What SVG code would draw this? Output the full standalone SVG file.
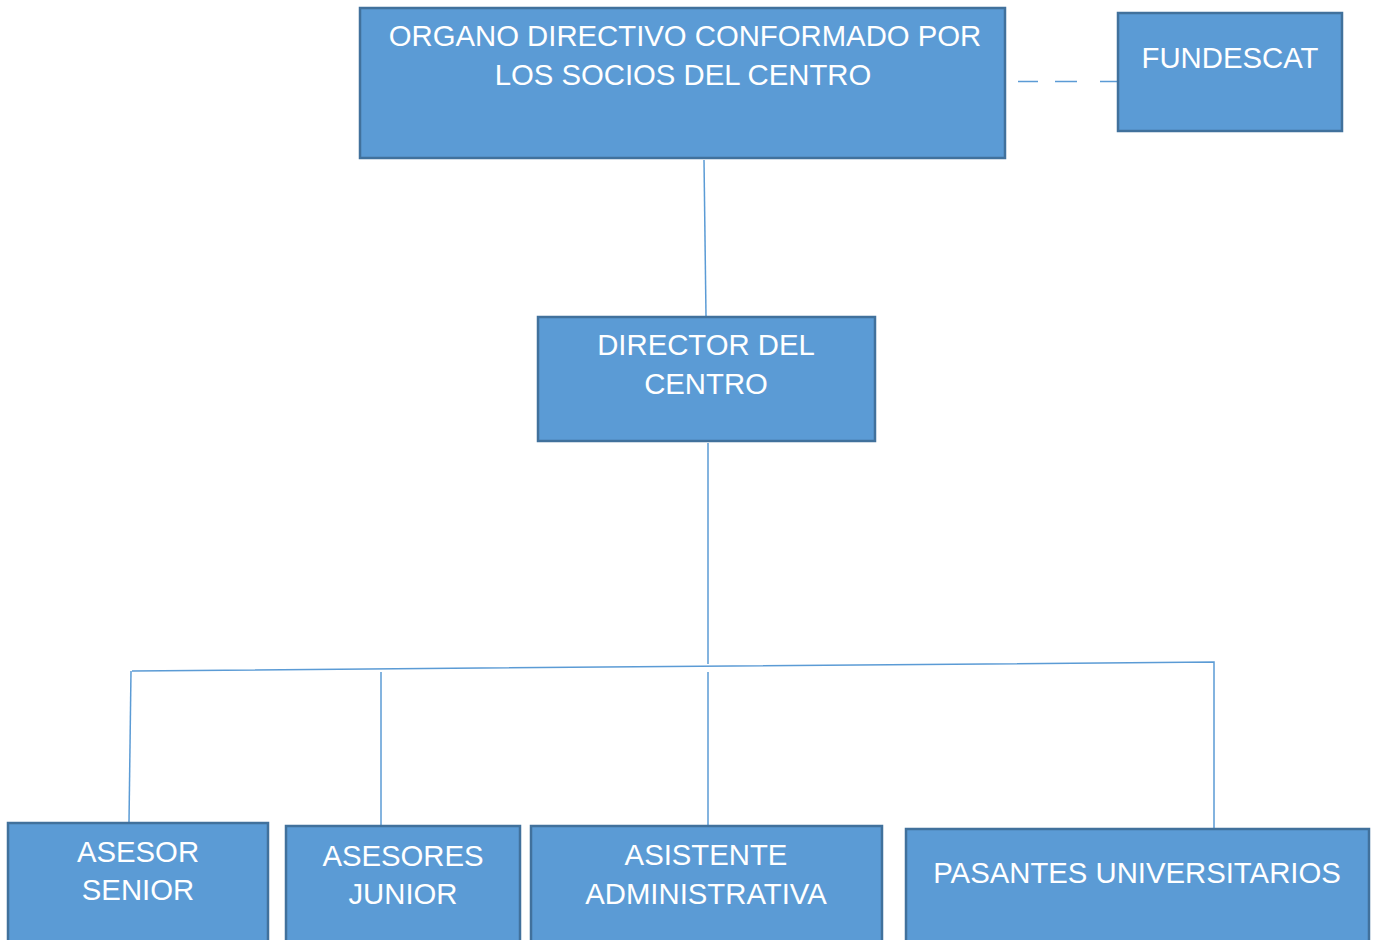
<svg xmlns="http://www.w3.org/2000/svg" width="1374" height="940" viewBox="0 0 1374 940">
<style>
.box{fill:#5B9BD5;stroke:#41719C;stroke-width:2.5}
.t{font-family:"Liberation Sans",Arial,sans-serif;font-size:29.3px;fill:#FFFFFF;text-anchor:middle}
.c{fill:none;stroke:#5B9BD5;stroke-width:1.5}
</style>
<rect width="1374" height="940" fill="#FFFFFF"/>
<g id="connectors">
<line class="c" x1="704" y1="160" x2="706" y2="316"/>
<line class="c" x1="708" y1="443" x2="708" y2="664"/>
<polyline class="c" points="132,671 1214,662 1214,828"/>
<line class="c" x1="131" y1="671" x2="129" y2="822"/>
<line class="c" x1="381" y1="672" x2="381" y2="825"/>
<line class="c" x1="708" y1="672" x2="708" y2="825"/>
<line class="c" x1="1018" y1="81.5" x2="1118" y2="81.5" stroke-dasharray="20,17,22,23,18"/>
</g>
<g id="organo">
<rect class="box" x="360" y="8" width="645" height="150"/>
<text class="t" x="685" y="46">ORGANO DIRECTIVO CONFORMADO POR</text>
<text class="t" x="683" y="85">LOS SOCIOS DEL CENTRO</text>
</g>
<g id="fundescat">
<rect class="box" x="1118" y="13" width="224" height="118"/>
<text class="t" x="1230" y="68">FUNDESCAT</text>
</g>
<g id="director">
<rect class="box" x="538" y="317" width="337" height="124"/>
<text class="t" x="706" y="355">DIRECTOR DEL</text>
<text class="t" x="706" y="394">CENTRO</text>
</g>
<g id="asesor-senior">
<rect class="box" x="8" y="823" width="260" height="130"/>
<text class="t" x="138" y="862">ASESOR</text>
<text class="t" x="138" y="900">SENIOR</text>
</g>
<g id="asesores-junior">
<rect class="box" x="286" y="826" width="234" height="130"/>
<text class="t" x="403" y="866">ASESORES</text>
<text class="t" x="403" y="904">JUNIOR</text>
</g>
<g id="asistente">
<rect class="box" x="531" y="826" width="351" height="130"/>
<text class="t" x="706" y="865">ASISTENTE</text>
<text class="t" x="706" y="904">ADMINISTRATIVA</text>
</g>
<g id="pasantes">
<rect class="box" x="906" y="829" width="463" height="130"/>
<text class="t" x="1137" y="883">PASANTES UNIVERSITARIOS</text>
</g>
</svg>
